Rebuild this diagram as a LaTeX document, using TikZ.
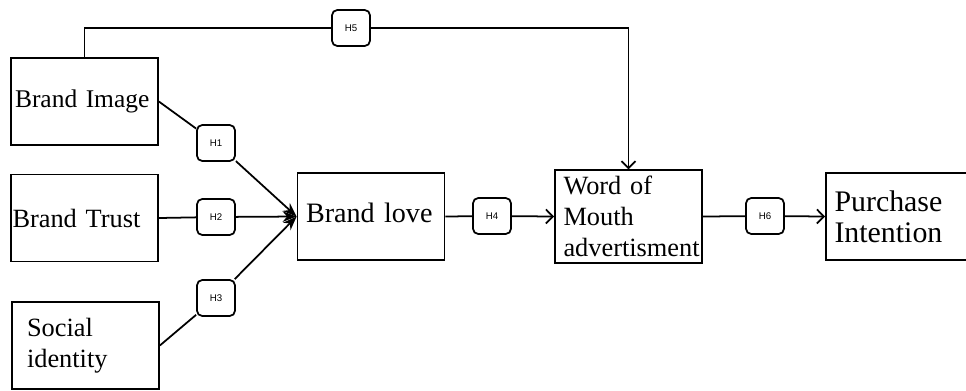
\documentclass[tikz,border=0pt]{standalone}
\usepackage{fontspec}
\setmainfont{Liberation Serif}
\newfontfamily\hypfont{Liberation Sans}
\usetikzlibrary{arrows.meta}

\tikzset{
  factor/.style={draw, line width=1pt, minimum width=2.94cm, minimum height=1.74cm,
    text width=2.6cm, inner xsep=0.17cm, align=left,
    font=\fontsize{15}{17.6}\selectfont},
  hyp/.style={draw, line width=1pt, rounded corners=3pt, fill=white,
    minimum width=0.76cm, minimum height=0.72cm, inner sep=0pt,
    font=\hypfont\fontsize{5.5}{6}\selectfont},
  conv/.style={-{Stealth[length=8pt,width=6pt]}}
}

\begin{document}
\begin{tikzpicture}[x=0.02cm, y=-0.02cm, line width=1pt,
    >={Straight Barb[length=4pt,width=8pt]}]

  \useasboundingbox (0,0) rectangle (966,390);

  % antecedents
  \node[factor, inner xsep=0.08cm, text width=2.78cm, font=\fontsize{14.5}{17}\selectfont] (image) at (84.5,101.5) {Brand~Image};
  \node[factor, inner xsep=0.03cm, text width=2.88cm] (trust) at (84.5,218) {Brand Trust};
  \node[factor, inner xsep=0.3cm, text width=2.34cm] (identity) at (85.5,345.5) {Social\\identity};

  % mediators and outcome
  \node[factor, font=\fontsize{16}{18}\selectfont] (love) at (371,216.5) {\raisebox{4pt}{Brand love}};
  \node[factor] (wom) at (628.5,216.5) {Word of\\Mouth\\advertisment};
  \node[factor, font=\fontsize{17}{17.6}\selectfont] (intention) at (899.5,216.5) {Purchase\\Intention};

  % hypotheses
  \foreach \n/\x/\y in {1/216/143, 2/216/217, 3/216/298, 4/492/216, 5/351/28, 6/765/216}
    \node[hyp] (h\n) at (\x,\y) {H\n};

  \draw[conv] (image.east) -- (h1) -- (love.west);
  \draw[conv] (trust.east) -- (h2) -- (love.west);
  \draw[conv] (identity.east) -- (h3) -- (love.west);

  \draw[->] (love.east) -- (h4) -- (wom.west);
  \draw[->] (wom.east) -- (h6) -- (intention.west);
  \draw[->] (image.north) |- (h5) -| (wom.north);
\end{tikzpicture}
\end{document}
